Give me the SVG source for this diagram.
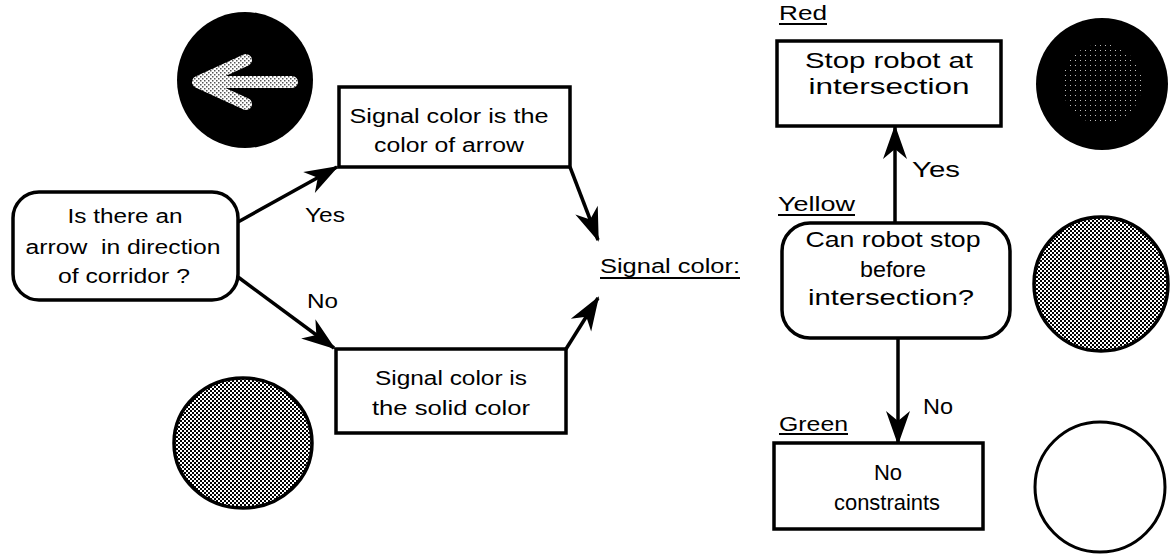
<svg xmlns="http://www.w3.org/2000/svg" width="1176" height="557" viewBox="0 0 1176 557">
  <defs>
    <style>
      .t { font-family: "Liberation Sans", Arial, Helvetica, sans-serif; font-size: 20px; fill: #000; }
      .tr { font-family: "Liberation Sans", Arial, Helvetica, sans-serif; font-size: 22px; fill: #000; }
      .box { fill: #fff; stroke: #000; stroke-width: 3.5; }
      .conn { fill: none; stroke: #000; stroke-width: 3.5; stroke-linecap: butt; }
      .ul { stroke: #000; stroke-width: 2; }
    </style>
    <pattern id="mid" patternUnits="userSpaceOnUse" width="4" height="4">
      <rect width="4" height="4" fill="#fff"/>
      <rect width="2" height="2" fill="#000"/>
      <rect x="2" y="2" width="2" height="2" fill="#000"/>
    </pattern>
    <pattern id="light" patternUnits="userSpaceOnUse" width="4" height="4">
      <rect width="4" height="4" fill="#fff"/>
      <rect width="1.5" height="1.5" fill="#555"/>
      <rect x="2" y="2" width="1.5" height="1.5" fill="#555"/>
    </pattern>
    <pattern id="dark" patternUnits="userSpaceOnUse" width="5" height="5">
      <rect width="5" height="5" fill="#000"/>
      <rect width="1" height="1" fill="#bbb"/>
    </pattern>
    <marker id="ah" viewBox="-36 -13 38 26" refX="-2" refY="0" markerWidth="38" markerHeight="26" markerUnits="userSpaceOnUse" orient="auto">
      <path d="M0,0 L-34,-12 L-24,0 L-34,12 Z" fill="#000"/>
    </marker>
  </defs>

  <rect width="1176" height="557" fill="#fff"/>

  <!-- signal pictures -->
  <g id="sign-arrow">
    <circle cx="245" cy="80" r="68" fill="#000"/>
    <path d="M246,60 L198,82 L246,104 M202,82 L292,82" fill="none" stroke="url(#light)" stroke-width="12" stroke-linecap="round" stroke-linejoin="round"/>
  </g>
  <g id="sign-solid">
    <ellipse cx="243" cy="443" rx="69" ry="65" fill="url(#mid)" stroke="#000" stroke-width="3.5"/>
  </g>
  <g id="sign-red">
    <circle cx="1102" cy="84" r="66" fill="#000"/>
    <circle cx="1102" cy="84" r="40" fill="url(#dark)"/>
  </g>
  <g id="sign-yellow">
    <circle cx="1101" cy="284" r="67" fill="url(#mid)" stroke="#000" stroke-width="3.5"/>
  </g>
  <g id="sign-green">
    <circle cx="1100" cy="487" r="65" fill="#fff" stroke="#000" stroke-width="3"/>
  </g>

  <!-- connectors -->
  <g id="connectors">
    <line class="conn" x1="238" y1="222" x2="337" y2="167" marker-end="url(#ah)"/>
    <line class="conn" x1="570" y1="167" x2="598" y2="240" marker-end="url(#ah)"/>
    <line class="conn" x1="238" y1="277" x2="334" y2="348" marker-end="url(#ah)"/>
    <line class="conn" x1="566" y1="349" x2="598" y2="298" marker-end="url(#ah)"/>
    <line class="conn" x1="895" y1="223" x2="895" y2="127" marker-end="url(#ah)"/>
    <line class="conn" x1="898" y1="338" x2="898" y2="443" marker-end="url(#ah)"/>
    <text class="t" x="305" y="222" textLength="40" lengthAdjust="spacingAndGlyphs">Yes</text>
    <text class="t" x="307" y="308" textLength="31" lengthAdjust="spacingAndGlyphs">No</text>
    <text class="tr" x="912" y="177" textLength="48" lengthAdjust="spacingAndGlyphs">Yes</text>
    <text class="tr" x="923" y="414" textLength="30" lengthAdjust="spacingAndGlyphs">No</text>
  </g>

  <!-- nodes -->
  <g id="n-question-arrow">
    <rect class="box" x="13" y="192" width="225" height="108" rx="26"/>
    <text class="t" x="125" y="223" text-anchor="middle" textLength="115" lengthAdjust="spacingAndGlyphs">Is there an</text>
    <text class="t" x="123" y="254" text-anchor="middle" textLength="195" lengthAdjust="spacingAndGlyphs" xml:space="preserve">arrow  in direction</text>
    <text class="t" x="124" y="283" text-anchor="middle" textLength="132" lengthAdjust="spacingAndGlyphs">of corridor ?</text>
  </g>

  <g id="n-arrow-color">
    <rect class="box" x="339" y="87" width="231" height="80"/>
    <text class="t" x="449" y="123" text-anchor="middle" textLength="199" lengthAdjust="spacingAndGlyphs">Signal color is the</text>
    <text class="t" x="449" y="152" text-anchor="middle" textLength="150" lengthAdjust="spacingAndGlyphs">color of arrow</text>
  </g>

  <g id="n-solid-color">
    <rect class="box" x="336" y="349" width="230" height="84"/>
    <text class="t" x="451" y="385" text-anchor="middle" textLength="152" lengthAdjust="spacingAndGlyphs">Signal color is</text>
    <text class="t" x="451" y="415" text-anchor="middle" textLength="158" lengthAdjust="spacingAndGlyphs">the solid color</text>
  </g>

  <g id="n-signal-color">
    <text class="t" x="600" y="273" textLength="140" lengthAdjust="spacingAndGlyphs">Signal color:</text>
    <line class="ul" x1="600" y1="278" x2="740" y2="278"/>
  </g>

  <g id="n-red">
    <text class="t" x="779" y="20" textLength="48" lengthAdjust="spacingAndGlyphs">Red</text>
    <line class="ul" x1="779" y1="24" x2="827" y2="24"/>
    <rect class="box" x="777" y="41" width="224" height="85"/>
    <text class="tr" x="889" y="68" text-anchor="middle" textLength="168" lengthAdjust="spacingAndGlyphs">Stop robot at</text>
    <text class="tr" x="889" y="94" text-anchor="middle" textLength="161" lengthAdjust="spacingAndGlyphs">intersection</text>
  </g>

  <g id="n-yellow">
    <text class="t" x="778" y="211" textLength="77" lengthAdjust="spacingAndGlyphs">Yellow</text>
    <line class="ul" x1="778" y1="215" x2="855" y2="215"/>
    <rect class="box" x="782" y="223" width="228" height="115" rx="28"/>
    <text class="tr" x="893" y="247" text-anchor="middle" textLength="175" lengthAdjust="spacingAndGlyphs">Can robot stop</text>
    <text class="tr" x="893" y="277" text-anchor="middle" textLength="66" lengthAdjust="spacingAndGlyphs">before</text>
    <text class="tr" x="891" y="305" text-anchor="middle" textLength="166" lengthAdjust="spacingAndGlyphs">intersection?</text>
  </g>

  <g id="n-green">
    <text class="t" x="779" y="431" textLength="69" lengthAdjust="spacingAndGlyphs">Green</text>
    <line class="ul" x1="779" y1="434" x2="848" y2="434"/>
    <rect class="box" x="774" y="443" width="209" height="86"/>
    <text class="tr" x="888" y="480" text-anchor="middle">No</text>
    <text class="tr" x="887" y="510" text-anchor="middle" textLength="106" lengthAdjust="spacingAndGlyphs">constraints</text>
  </g>
</svg>
